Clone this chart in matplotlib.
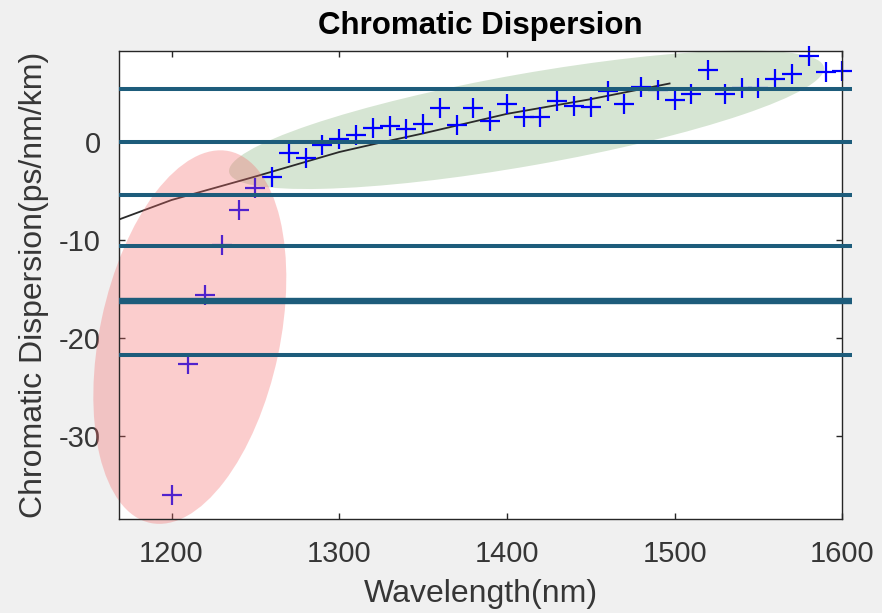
import numpy as np
import matplotlib.pyplot as plt
from matplotlib.patches import Ellipse
from matplotlib import transforms

# measured dispersion (ps/nm/km) every 10 nm
wavelength = np.arange(1200, 1601, 10)
dispersion = [-36.0, -22.6, -15.6, -10.5, -6.9, -4.7, -3.6, -1.1, -1.6, -0.3,
              0.3, 0.7, 1.5, 1.7, 1.4, 1.9, 3.5, 1.8, 3.5, 2.2,
              3.9, 2.6, 2.6, 4.2, 3.7, 3.6, 5.2, 3.9, 5.6, 5.3,
              4.3, 4.9, 7.4, 4.9, 5.5, 5.5, 6.5, 7.0, 8.8, 7.2, 7.3]

# fitted curve
fit_x = [1168.5, 1200, 1250, 1300, 1323, 1350, 1400, 1450, 1497]
fit_y = [-7.9, -5.9, -3.5, -1.0, -0.1, 0.9, 2.9, 4.4, 6.0]

# horizontal reference levels
levels = [5.4, 0.0, -5.4, -10.6, -16.2, -21.7]
level_widths = [2.9, 2.9, 2.9, 2.9, 4.6, 2.9]

xticks = [1200, 1300, 1400, 1500, 1600]
yticks = [-30, -20, -10, 0]

plt.rcParams['font.family'] = ['Liberation Sans', 'DejaVu Sans']
plt.rcParams['axes.unicode_minus'] = False

fig = plt.figure(figsize=(8.82, 6.13), dpi=100, facecolor='#f0f0f0')
ax = fig.add_axes([0.1346, 0.153, 0.955 - 0.1346, 0.9173 - 0.153])
ax.set_facecolor('white')

ax.set_xlim(1168.5, 1600)
ax.set_ylim(-38.5, 9.35)

# highlight ellipses (sizes in inches, centred in data coords)
green_tr = fig.dpi_scale_trans + transforms.ScaledTranslation(1411.7, 2.3, ax.transData)
ax.add_patch(Ellipse((0, 0), 6.04, 0.92, angle=10.0, transform=green_tr,
                     facecolor=(120/255, 170/255, 110/255), alpha=0.3,
                     edgecolor='none', zorder=0.5, clip_on=False))

ax.plot(fit_x, fit_y, color='#2a2a2a', lw=1.3, zorder=1.5)
ax.plot(wavelength, dispersion, '+', color='#0000ff', ms=15, mew=1.6,
        zorder=2, clip_on=False)

red_tr = fig.dpi_scale_trans + transforms.ScaledTranslation(1210.9, -19.9, ax.transData)
ax.add_patch(Ellipse((0, 0), 1.80, 3.80, angle=-12, transform=red_tr,
                     facecolor='#f46a6a', alpha=0.33, edgecolor='none',
                     zorder=2.2, clip_on=False))

for lv, lw in zip(levels, level_widths):
    ax.plot([1168.5, 1606], [lv, lv], color='#1d5c7b', lw=lw,
            solid_capstyle='butt', zorder=3, clip_on=False)

ax.set_xticks(xticks)
ax.set_yticks(yticks)
ax.tick_params(direction='in', length=4.5, width=1, top=True, right=True,
               labelsize=21, colors='#262626', labelcolor='#363636', pad=13)
ax.tick_params(axis='x', pad=15)
for s in ax.spines.values():
    s.set_color('#262626')
    s.set_linewidth(1.0)
    s.set_zorder(2.5)

ax.set_title('Chromatic Dispersion', fontsize=22.5, fontweight='bold', pad=12)
ax.set_xlabel('Wavelength(nm)', fontsize=23, color='#363636', labelpad=8)
ax.set_ylabel('Chromatic Dispersion(ps/nm/km)', fontsize=23, color='#363636', labelpad=7)

fig.savefig('out.png', dpi=100, facecolor=fig.get_facecolor())
